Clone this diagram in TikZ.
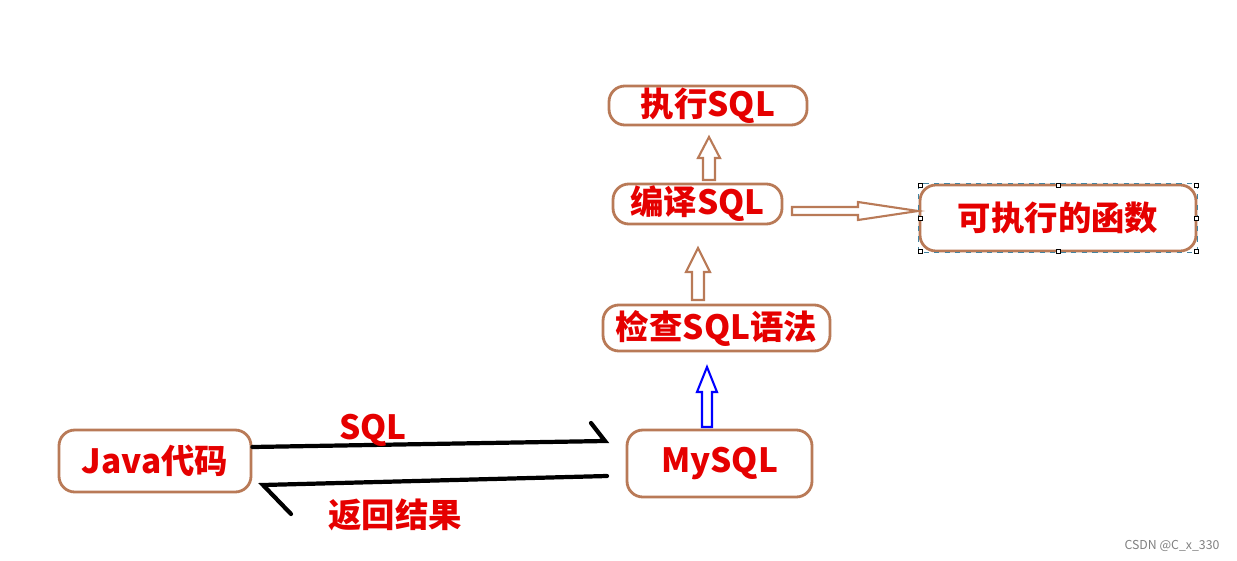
\documentclass[tikz,border=0pt]{standalone}
\usepackage{fontspec}
\setmainfont{Noto Sans CJK SC}
\begin{document}
\begin{tikzpicture}[x=0.02cm,y=-0.02cm,
  box/.style={draw=brown!70!orange!80!black,line width=1.6pt,rounded corners=9pt,inner sep=0pt},
  lbl/.style={text=red!90!black,font=\bfseries\fontsize{19}{22}\selectfont},
  hol/.style={draw=brown!70!orange!80!black,line width=1.2pt,fill=white},
  blk/.style={line width=2.4pt,line cap=round}]
\useasboundingbox (0,0) rectangle (1237,561);
\definecolor{bx}{RGB}{185,122,87}
\tikzset{box/.append style={draw=bx},hol/.append style={draw=bx}}
\node[box,minimum width=198*0.02cm,minimum height=39*0.02cm] (exec) at (708,105.5) {};
\node[lbl] at (exec) {执行SQL};
\node[box,minimum width=169*0.02cm,minimum height=40*0.02cm] (comp) at (697.5,204) {};
\node[lbl] at (comp) {编译SQL};
\node[box,minimum width=276*0.02cm,minimum height=66*0.02cm] (func) at (1058,218) {};
\node[lbl] at (func) {可执行的函数};
\draw[cyan!60!black,dashed,line width=0.4pt] (func.north west) rectangle (func.south east);
\foreach \p in {(920,185),(1058,185),(1196,185),(920,218),(1196,218),(920,251),(1058,251),(1196,251)}
  \draw[fill=white,line width=0.4pt] \p ++(-2,-2) rectangle ++(4,4);
\node[box,minimum width=227*0.02cm,minimum height=46*0.02cm] (chk) at (716.5,328) {};
\node[lbl] at (chk) {检查SQL语法};
\node[box,minimum width=185*0.02cm,minimum height=67*0.02cm] (my) at (719.5,463.5) {};
\node[lbl] at (my) {MySQL};
\node[box,minimum width=192*0.02cm,minimum height=62*0.02cm] (java) at (155,461) {};
\node[lbl] at (java) {Java代码};
% hollow arrows
\draw[hol,draw=blue] (702,427) -- (702,392) -- (697,392) -- (707,367) -- (717,392) -- (712,392) -- (712,427) -- cycle;
\draw[hol] (692,300) -- (692,272) -- (686,272) -- (698,248) -- (710,272) -- (704,272) -- (704,300) -- cycle;
\draw[hol] (703,180) -- (703,158) -- (698,158) -- (709,137) -- (720,158) -- (715,158) -- (715,180) -- cycle;
\draw[hol] (792,207) -- (858,207) -- (858,202) -- (918,211) -- (858,220) -- (858,215) -- (792,215) -- cycle;
% black arrows
\coordinate (a1) at (263,447); \coordinate (a2) at (605,441);
\draw[blk] (java.east|-a1) -- (a2) -- (591,423);
\coordinate (b1) at (607,476);
\draw[blk] (b1) -- (263,485) -- (291,514);
\node[lbl] (sql) at (373,430) {SQL};
\node[lbl] (ret) at (395,515) {返回结果};
\node[text=gray,font=\fontsize{7}{8}\selectfont] (wm) at (1172,546) {CSDN @C\_x\_330};
\end{tikzpicture}
\end{document}
